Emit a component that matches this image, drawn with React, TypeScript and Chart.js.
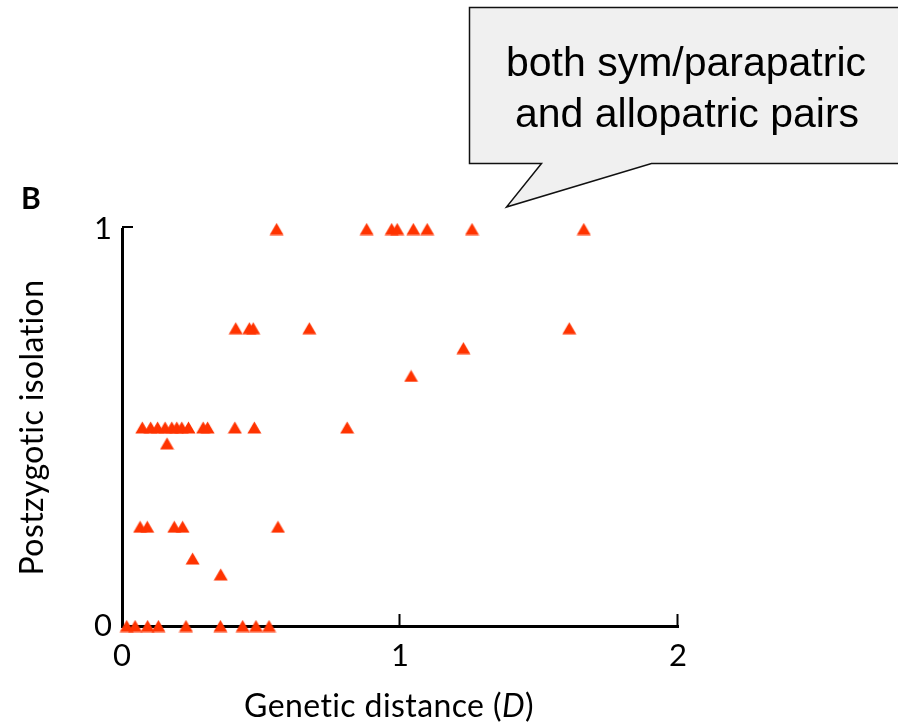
import React, { useEffect, useRef } from "react";
import { Chart, registerables } from "chart.js";

Chart.register(...registerables);

// Genetic distance (D) and postzygotic isolation for each species pair
const geneticDistance = [
  0.556, 0.88, 0.97, 0.99, 1.048, 1.098, 1.259, 1.661,
  0.409, 0.458, 0.472, 0.674, 1.609,
  1.228, 1.04,
  0.073, 0.103, 0.128, 0.155, 0.179, 0.197, 0.215, 0.239, 0.292, 0.308, 0.406, 0.476, 0.81,
  0.162,
  0.065, 0.091, 0.188, 0.218, 0.561,
  0.254, 0.355,
  0.017, 0.047, 0.092, 0.131, 0.23, 0.354, 0.434, 0.482, 0.529,
];
const postzygoticIsolation = [
  1, 1, 1, 1, 1, 1, 1, 1,
  0.75, 0.75, 0.75, 0.75, 0.75,
  0.7, 0.63,
  0.5, 0.5, 0.5, 0.5, 0.5, 0.5, 0.5, 0.5, 0.5, 0.5, 0.5, 0.5, 0.5,
  0.46,
  0.25, 0.25, 0.25, 0.25, 0.25,
  0.17, 0.13,
  0, 0, 0, 0, 0, 0, 0, 0, 0,
];
const xTickValues = [0, 1, 2];
const yTickValues = [0, 1];
const calloutLines = ["both sym/parapatric", "and allopatric pairs"];
const panelLabel = "B";
const xTitleParts = ["Genetic distance (", "D", ")"];
const yTitle = "Postzygotic isolation";

const MARKER_COLOR = "#ff3300";
const AXIS_FONT = "Lato";

function makeTriangle(): HTMLCanvasElement {
  const c = document.createElement("canvas");
  c.width = 15;
  c.height = 13;
  const ctx = c.getContext("2d")!;
  ctx.fillStyle = MARKER_COLOR;
  ctx.beginPath();
  ctx.moveTo(0.5, 12.5);
  ctx.lineTo(7.5, 0.5);
  ctx.lineTo(14.5, 12.5);
  ctx.closePath();
  ctx.fill();
  return c;
}

const decorPlugin = {
  id: "decor",
  afterDraw(chart: any) {
    const ctx = chart.ctx as CanvasRenderingContext2D;
    const xs = chart.scales.x;
    const ys = chart.scales.y;
    const area = chart.chartArea;
    ctx.save();
    // inward tick marks
    ctx.strokeStyle = "#000";
    ctx.lineWidth = 2;
    xTickValues.slice(1).forEach((v) => {
      const px = Math.round(xs.getPixelForValue(v)) - 0.5;
      ctx.beginPath();
      ctx.moveTo(px, area.bottom);
      ctx.lineTo(px, area.bottom - 12);
      ctx.stroke();
    });
    yTickValues.slice(1).forEach((v) => {
      const py = Math.round(ys.getPixelForValue(v)) - 2;
      ctx.beginPath();
      ctx.moveTo(area.left, py);
      ctx.lineTo(area.left + 11, py);
      ctx.stroke();
    });

    // axis titles (letter spacing avoids the Lato "ti" ligature)
    (ctx as any).letterSpacing = "0.4px";
    ctx.fillStyle = "#000";
    ctx.textBaseline = "middle";
    ctx.textAlign = "left";
    const normal = `32px ${AXIS_FONT}`;
    const italic = `italic 32px ${AXIS_FONT}`;
    const widths = xTitleParts.map((t, i) => {
      ctx.font = i === 1 ? italic : normal;
      return ctx.measureText(t).width;
    });
    const total = widths.reduce((a, b) => a + b, 0);
    let tx = 389 - total / 2;
    xTitleParts.forEach((t, i) => {
      ctx.font = i === 1 ? italic : normal;
      ctx.fillText(t, tx, 707);
      tx += widths[i];
    });

    ctx.save();
    ctx.translate(33, (area.top + area.bottom) / 2);
    ctx.rotate(-Math.PI / 2);
    ctx.font = normal;
    ctx.textAlign = "center";
    ctx.fillText(yTitle, 0, 0);
    ctx.restore();
    (ctx as any).letterSpacing = "0px";

    // panel label
    ctx.textAlign = "left";
    ctx.font = `bold 30px ${AXIS_FONT}`;
    ctx.fillText(panelLabel, 21, 199);

    // callout
    ctx.beginPath();
    ctx.moveTo(469.5, 7.5);
    ctx.lineTo(905, 7.5);
    ctx.lineTo(905, 163.5);
    ctx.lineTo(651.5, 163.5);
    ctx.lineTo(506.5, 207);
    ctx.lineTo(541.5, 163.5);
    ctx.lineTo(469.5, 163.5);
    ctx.closePath();
    ctx.fillStyle = "#f0f0f0";
    ctx.fill();
    ctx.strokeStyle = "#111";
    ctx.lineWidth = 1.5;
    ctx.stroke();
    ctx.fillStyle = "#000";
    ctx.font = "41px 'Liberation Sans', Arial, sans-serif";
    ctx.textAlign = "center";
    ctx.textBaseline = "alphabetic";
    ctx.fillText(calloutLines[0], 686, 76);
    ctx.fillText(calloutLines[1], 687, 127);
    ctx.restore();
  },
};

export default function App() {
  const ref = useRef<HTMLCanvasElement | null>(null);
  useEffect(() => {
    if (!ref.current) return;
    const marker = makeTriangle();
    const points = geneticDistance.map((d, i) => ({ x: d, y: postzygoticIsolation[i] }));
    const chart = new Chart(ref.current, {
      type: "scatter",
      data: {
        datasets: [
          {
            data: points,
            pointStyle: marker as any,
            pointRadius: 7,
            pointHoverRadius: 7,
            backgroundColor: MARKER_COLOR,
            borderColor: MARKER_COLOR,
            clip: false as any,
          },
        ],
      },
      options: {
        responsive: false,
        animation: false,
        devicePixelRatio: 1,
        events: [],
        layout: { padding: { top: 229, right: 220, left: 0, bottom: 0 } },
        plugins: { legend: { display: false }, tooltip: { enabled: false } },
        scales: {
          x: {
            type: "linear",
            min: 0,
            max: 2,
            afterBuildTicks: (s: any) => {
              s.ticks = xTickValues.map((v) => ({ value: v }));
            },
            ticks: {
              color: "#000",
              font: { family: AXIS_FONT, size: 31 },
              padding: 11,
              maxRotation: 0,
              autoSkip: false,
            },
            grid: { display: false, drawTicks: false },
            border: { display: true, color: "#000", width: 3 },
            title: { display: false },
            afterFit: (s: any) => {
              s.height = 99;
            },
          },
          y: {
            type: "linear",
            min: 0,
            max: 1,
            afterBuildTicks: (s: any) => {
              s.ticks = yTickValues.map((v) => ({ value: v }));
            },
            ticks: {
              color: "#000",
              font: { family: AXIS_FONT, size: 31 },
              padding: 10,
              autoSkip: false,
            },
            grid: { display: false, drawTicks: false },
            border: { display: true, color: "#000", width: 3 },
            title: { display: false },
            afterFit: (s: any) => {
              s.width = 122;
            },
          },
        },
      },
      plugins: [decorPlugin],
    });
    return () => chart.destroy();
  }, []);

  return (
    <div style={{ position: "absolute", left: 0, top: 0, width: 898, height: 725, background: "#fff" }}>
      <canvas ref={ref} width={898} height={725} style={{ display: "block" }} />
    </div>
  );
}
